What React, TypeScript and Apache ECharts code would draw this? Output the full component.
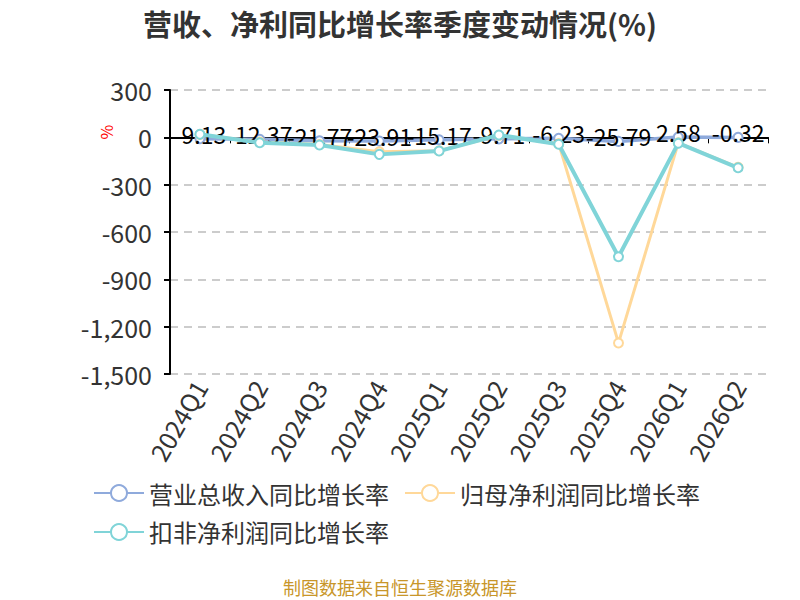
import React, { useEffect, useRef } from "react";
import * as echarts from "echarts";

const categories = ["2024Q1", "2024Q2", "2024Q3", "2024Q4", "2025Q1", "2025Q2", "2025Q3", "2025Q4", "2026Q1", "2026Q2"];
const revenueGrowth = [-9.13, -12.37, -21.77, -23.91, -15.17, -9.71, -6.23, -25.79, 2.58, -0.32];
const netProfitGrowth = [18, -30, -45, -92, -85, 12, -40, -1303, -35, -190];
const deductedProfitGrowth = [19, -34, -49, -108, -87, 15, -44, -757, -37, -193];
const seriesNames = ["营业总收入同比增长率", "归母净利润同比增长率", "扣非净利润同比增长率"];
const colors = ["#8FAADC", "#FFD899", "#80D4D8"];

const FONT = "'Noto Sans CJK SC', 'Noto Sans', sans-serif";

export default function App() {
  const ref = useRef<HTMLDivElement>(null);
  useEffect(() => {
    if (!ref.current) return;
    const chart = echarts.init(ref.current, undefined, { renderer: "svg" });
    const datas = [revenueGrowth, netProfitGrowth, deductedProfitGrowth];
    const widths = [3.5, 3, 4];
    chart.setOption({
      animation: false,
      textStyle: { fontFamily: FONT },
      title: {
        text: "营收、净利同比增长率季度变动情况(%)",
        left: "center",
        top: 8,
        padding: 0,
        textStyle: { fontSize: 29, fontWeight: "bold", color: "#333", fontFamily: FONT },
      },
      color: colors,
      grid: { left: 170, right: 32, top: 90, bottom: 226, containLabel: false },
      legend: {
        left: 88,
        top: 476,
        itemWidth: 50,
        itemHeight: 20,
        itemGap: 15,
        textStyle: { fontSize: 24, color: "#333", fontFamily: FONT },
        data: seriesNames,
      },
      xAxis: [
        {
          type: "category",
          data: categories,
          position: "bottom",
          axisLine: { show: false, onZero: false },
          axisTick: { show: false },
          axisLabel: { rotate: 60, fontSize: 25, color: "#333", margin: 8, fontFamily: FONT },
          splitLine: { show: false },
        },
        {
          type: "category",
          data: categories,
          position: "bottom",
          axisLine: { show: true, onZero: true, lineStyle: { color: "#000", width: 2 } },
          axisTick: { show: true, length: 6, lineStyle: { color: "#000", width: 1 } },
          axisLabel: { show: false },
          splitLine: { show: false },
        },
      ],
      yAxis: {
        type: "value",
        min: -1500,
        max: 300,
        interval: 300,
        axisLine: { show: true, lineStyle: { color: "#000", width: 2 } },
        axisTick: { show: true, length: 6, lineStyle: { color: "#000", width: 2 } },
        axisLabel: { fontSize: 25, color: "#333", margin: 18, fontFamily: FONT },
        splitLine: { show: true, lineStyle: { color: "#ccc", type: [8, 6], width: 2 } },
      },
      graphic: [
        {
          type: "text",
          x: 106,
          y: 132,
          rotation: Math.PI / 2,
          style: { text: "%", fill: "#ff0000", fontSize: 16, fontFamily: FONT, align: "center", verticalAlign: "middle" },
        },
        {
          type: "text",
          left: "center",
          top: 578,
          style: { text: "制图数据来自恒生聚源数据库", fill: "#C8962A", fontSize: 18, fontFamily: FONT },
        },
      ],
      series: seriesNames.map((name, i) => ({
        name,
        type: "line",
        xAxisIndex: 0,
        data: datas[i],
        symbol: "emptyCircle",
        symbolSize: 9,
        itemStyle: { color: colors[i], borderWidth: 2 },
        lineStyle: { width: widths[i], color: colors[i] },
        label:
          i === 0
            ? {
                show: true,
                position: "inside",
                offset: [0, -5],
                color: "#000",
                fontSize: 23,
                fontFamily: FONT,
              }
            : { show: false },
        z: i === 2 ? 3 : 2,
      })),
    });
    return () => chart.dispose();
  }, []);
  return <div ref={ref} style={{ width: 800, height: 600, position: "absolute", left: 0, top: 0 }} />;
}
